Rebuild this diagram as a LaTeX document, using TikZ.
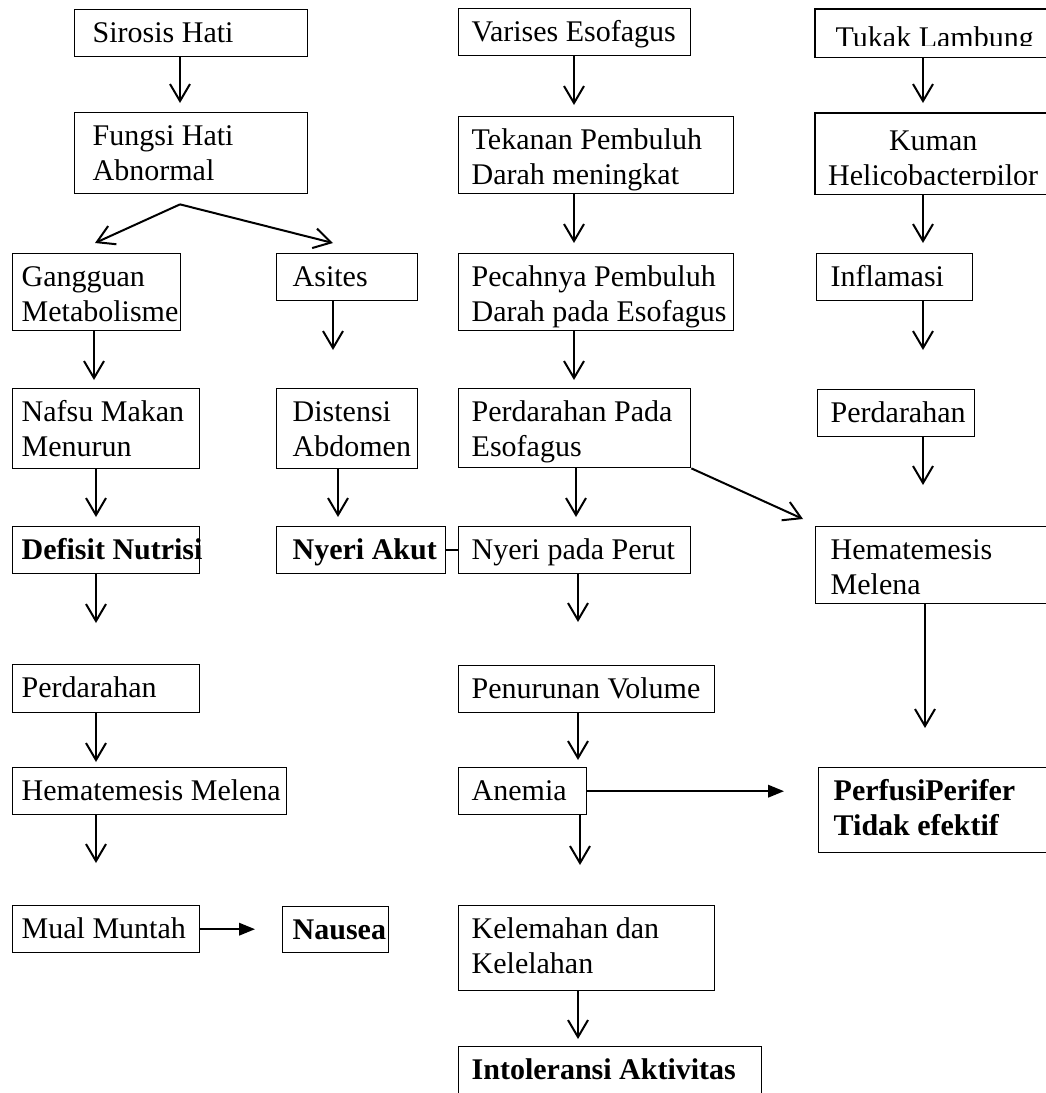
\documentclass[tikz,border=0pt]{standalone}
\usepackage{fontspec}
\setmainfont{Liberation Serif}
\usetikzlibrary{arrows.meta,calc}

\tikzset{
	box/.style={draw, line width=0.55pt, anchor=north west, inner ysep=0pt, align=flush left,
		text height=13.2pt, text depth=5.6pt, font=\fontsize{12}{14}\selectfont,
		execute at begin node={\hyphenpenalty=10000\relax}},
	diag/.style={font=\fontsize{12}{14}\selectfont\bfseries},
	dn/.style={line width=0.8pt, -{Straight Barb[length=6.8pt,width=8pt]}},
	fl/.style={line width=0.8pt, -{Triangle[length=6.4pt,width=5pt]}}
}

\begin{document}
\begin{tikzpicture}[x=0.4pt,y=-0.4pt]
	\useasboundingbox (0,0) rectangle (1046,1093);
	% kolom kiri
	\node[box, text width=78.8pt, inner xsep=7.2pt] (sirosis) at (74,9) {Sirosis Hati};
	\node[box, text width=78.8pt, inner xsep=7.2pt, text depth=19.2pt] (fungsi) at (74,112) {Fungsi Hati\\Abnormal};
	\node[box, text width=60pt, inner xsep=3.6pt, text depth=17.6pt] (gangguan) at (12,253) {Gangguan\\Metabolisme};
	\node[box, text width=43.6pt, inner xsep=6.4pt] (asites) at (276,253) {Asites};
	\node[box, text width=67.6pt, inner xsep=3.6pt, text depth=18.8pt] (nafsu) at (12,388) {\mbox{Nafsu Makan}\\Menurun};
	\node[box, text width=43.6pt, inner xsep=6.4pt, text depth=18.8pt] (distensi) at (276,388) {Distensi\\Abdomen};
	\node[box, diag, text width=67.6pt, inner xsep=3.6pt] (defisit) at (12,526) {\mbox{Defisit Nutrisi}};
	\node[box, diag, text width=54.8pt, inner xsep=6.4pt] (nyeriAkut) at (276,526) {\mbox{Nyeri Akut}};
	\node[box, text width=67.6pt, inner xsep=3.6pt, text depth=6pt] (perdL) at (12,664) {Perdarahan};
	\node[box, text width=102.4pt, inner xsep=3.6pt] (hematL) at (12,767) {\mbox{Hematemesis Melena}};
	\node[box, text width=67.6pt, inner xsep=3.6pt] (mual) at (12,905) {\mbox{Mual Muntah}};
	\node[box, diag, text width=34.4pt, inner xsep=4pt, text depth=5.2pt] (nausea) at (282,906) {Nausea};

	% kolom tengah
	\node[box, text width=82.4pt, inner xsep=5.2pt] (varises) at (458,8) {\mbox{Varises Esofagus}};
	\node[box, text width=99.6pt, inner xsep=5.2pt, text depth=17.6pt] (tekanan) at (458,116) {\mbox{Tekanan Pembuluh}\\\mbox{Darah meningkat}};
	\node[box, text width=99.6pt, inner xsep=5.2pt, text depth=17.6pt] (pecah) at (458,253) {\mbox{Pecahnya Pembuluh}\\\mbox{Darah pada Esofagus}};
	\node[box, text width=82.4pt, inner xsep=5.2pt, text depth=18.4pt] (perdEso) at (458,388) {\mbox{Perdarahan Pada}\\Esofagus};
	\node[box, text width=82.4pt, inner xsep=5.2pt] (nyeriPerut) at (458,526) {\mbox{Nyeri pada Perut}};
	\node[box, text width=92pt, inner xsep=5.2pt] (turunVol) at (458,665) {\mbox{Penurunan Volume}};
	\node[box, text width=40.8pt, inner xsep=5.2pt] (anemia) at (458,767) {Anemia};
	\node[box, text width=92pt, inner xsep=5.2pt, text depth=20.8pt] (lemah) at (458,905) {\mbox{Kelemahan dan}\\Kelelahan};
	\node[box, diag, text width=110.8pt, inner xsep=5.2pt, text depth=10.8pt] (intol) at (458,1046) {\mbox{Intoleransi Aktivitas}};

	% kolom kanan
	\begin{scope}
		\clip (815,9) rectangle (1050,45);
		\node[box, draw=none, text width=78pt, inner xsep=8pt, text height=15.2pt, text depth=3.6pt] (tukak) at (815,9) {\mbox{Tukak Lambung}};
	\end{scope}
	\draw[line width=0.55pt] (tukak.north west) rectangle (tukak.south east);
	\begin{scope}
		\clip (815,113) rectangle (1050,184);
		\node[box, draw=none, align=center, text width=90pt, inner xsep=2pt, text height=14.8pt, text depth=17.2pt] (kuman) at (815,113) {Kuman\\Helicobacterpilor};
	\end{scope}
	\draw[line width=0.55pt] (kuman.north west) rectangle (kuman.south east);
	\node[box, text width=51.2pt, inner xsep=5.6pt] (inflamasi) at (816,253) {Inflamasi};
	\node[box, text width=52.4pt, inner xsep=5.2pt] (perdR) at (817,389) {Perdarahan};
	\node[box, text width=82pt, inner xsep=6pt, text depth=17.6pt] (hematR) at (815,526) {Hematemesis\\Melena};
	\node[box, diag, text width=80.8pt, inner xsep=6pt, text depth=20.8pt] (perfusi) at (818,767) {PerfusiPerifer\\\mbox{Tidak efektif}};

	% panah kiri
	\draw[dn] ($(sirosis.south west)+(106,0)$) -- ($(fungsi.north west)+(106,-9)$);
	\coordinate (split) at ($(fungsi.south west)+(106,10)$);
	\draw[dn] (split) -- ($(gangguan.north west)+(83,-10)$);
	\draw[dn] (split) -- ($(asites.north west)+(57,-10)$);
	\draw[dn] ($(gangguan.south west)+(82,0)$) -- ($(nafsu.north west)+(82,-8)$);
	\draw[dn] ($(nafsu.south west)+(84,0)$) -- ($(defisit.north west)+(84,-9)$);
	\draw[dn] ($(defisit.south west)+(84,0)$) -- ($(perdL.north west)+(84,-41)$);
	\draw[dn] ($(perdL.south west)+(84,0)$) -- ($(hematL.north west)+(84,-5)$);
	\draw[dn] ($(hematL.south west)+(84,0)$) -- ($(mual.north west)+(84,-42)$);
	\draw[fl, shorten >=10.8pt] (mual.east) -- (mual.east -| nausea.west);
	\draw[dn] ($(asites.south west)+(57,0)$) -- ($(distensi.north west)+(57,-38)$);
	\draw[dn] ($(distensi.south west)+(62,0)$) -- ($(nyeriAkut.north west)+(62,-9)$);
	\draw[line width=0.8pt] (nyeriAkut.east) -- (nyeriPerut.west);

	% panah tengah
	\draw[dn] ($(varises.south west)+(116,0)$) -- ($(tekanan.north west)+(116,-11)$);
	\draw[dn] ($(tekanan.south west)+(116,0)$) -- ($(pecah.north west)+(116,-10)$);
	\draw[dn] ($(pecah.south west)+(116,0)$) -- ($(perdEso.north west)+(116,-8)$);
	\draw[dn] ($(perdEso.south west)+(118,0)$) -- ($(nyeriPerut.north west)+(118,-9)$);
	\draw[dn] ($(nyeriPerut.south west)+(120,0)$) -- ($(turunVol.north west)+(120,-43)$);
	\draw[dn] ($(turunVol.south west)+(120,0)$) -- ($(anemia.north west)+(120,-7)$);
	\draw[dn] ($(anemia.south west)+(122,0)$) -- ($(lemah.north west)+(122,-40)$);
	\draw[dn] ($(lemah.south west)+(120,0)$) -- ($(intol.north west)+(120,-7)$);
	\draw[dn] (perdEso.south east) -- ($(hematR.north west)+(-12,-7)$);
	\draw[fl, shorten >=13.6pt] (anemia.east) -- (anemia.east -| perfusi.west);

	% panah kanan
	\draw[dn] ($(tukak.south west)+(108,0)$) -- ($(kuman.north west)+(108,-10)$);
	\draw[dn] ($(kuman.south west)+(108,0)$) -- ($(inflamasi.north west)+(107,-10)$);
	\draw[dn] ($(inflamasi.south west)+(107,0)$) -- ($(perdR.north west)+(106,-39)$);
	\draw[dn] ($(perdR.south west)+(106,0)$) -- ($(hematR.north west)+(108,-41)$);
	\draw[dn] ($(hematR.south west)+(110,0)$) -- ($(perfusi.north west)+(107,-39)$);
\end{tikzpicture}
\end{document}
